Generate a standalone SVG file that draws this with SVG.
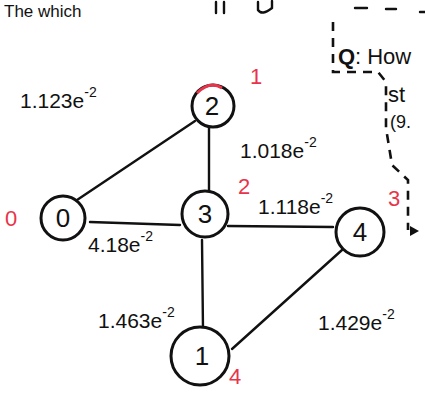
<svg xmlns="http://www.w3.org/2000/svg" width="425" height="393" viewBox="0 0 425 393">
<style>
.n{fill:#fff;stroke:#111;stroke-width:3}
.e{stroke:#111;stroke-width:2.4;fill:none;stroke-linecap:round}
.t{font-family:"Liberation Sans",Arial,sans-serif;fill:#111}
.nl{font-size:26px;text-anchor:middle}
.w{font-size:21px}
.s{font-size:14px}
.r{fill:#e8344a;font-family:"Liberation Sans",Arial,sans-serif;font-size:22px}
.d{stroke:#111;stroke-width:2.6;fill:none;stroke-dasharray:9 7}
</style>
<rect width="425" height="393" fill="#fff"/>
<g id="top-fragments">
<text class="t" x="4" y="17" font-size="17">The which</text>
<path class="e" d="M216 2 V13 M224 2 V13 M258 2 V10 Q262 16 272 8 V1"/>
<path class="e" d="M355 8 H367 M386 9 H396 M420 12 H425"/>
</g>
<g id="note">
<path class="d" d="M333 22 V72 H378 L386 82 V128 L392 165 L408 180 V230"/>
<path d="M410 226 L419 231 L410 236 Z" fill="#111"/>
<text class="t" x="338" y="64" font-size="22" font-weight="bold">Q</text>
<text class="t" x="355" y="64" font-size="22">: How</text>
<text class="t" x="388" y="102" font-size="22">st</text>
<text class="t" x="390" y="128" font-size="18">(9.</text>
<text class="r" x="388" y="206">3</text>
</g>
<g id="connectors">
<line class="e" x1="74" y1="202" x2="195" y2="121"/>
<line class="e" x1="90" y1="222" x2="180" y2="225"/>
<line class="e" x1="209" y1="128" x2="209" y2="192"/>
<line class="e" x1="228" y1="226" x2="333" y2="227"/>
<line class="e" x1="202" y1="240" x2="203" y2="330"/>
<line class="e" x1="342" y1="250" x2="232" y2="349"/>
</g>
<g id="node-2">
<circle class="n" cx="213" cy="106" r="21"/>
<path d="M197 93 Q210 80 222 88" stroke="#e8344a" stroke-width="3" fill="none"/>
<text class="t nl" x="212" y="115">2</text>
<text class="r" x="250" y="84">1</text>
</g>
<g id="node-0">
<circle class="n" cx="63" cy="218" r="22"/>
<text class="t nl" x="63" y="227">0</text>
<text class="r" x="5" y="226" font-size="24">0</text>
</g>
<g id="node-3">
<circle class="n" cx="205" cy="214" r="23"/>
<text class="t nl" x="205" y="223">3</text>
<text class="r" x="238" y="194">2</text>
</g>
<g id="node-4">
<circle class="n" cx="360" cy="232" r="24"/>
<text class="t nl" x="360" y="241">4</text>
</g>
<g id="node-1">
<circle class="n" cx="200" cy="356" r="29"/>
<text class="t nl" x="202" y="365">1</text>
<text class="r" x="229" y="384" font-size="27">4</text>
</g>
<g id="labels">
<text class="t w" x="20" y="108">1.123e<tspan class="s" dy="-11">-2</tspan></text>
<text class="t w" x="240" y="158">1.018e<tspan class="s" dy="-11">-2</tspan></text>
<text class="t w" x="258" y="214">1.118e<tspan class="s" dy="-11">-2</tspan></text>
<text class="t w" x="88" y="252">4.18e<tspan class="s" dy="-11">-2</tspan></text>
<text class="t w" x="98" y="328">1.463e<tspan class="s" dy="-11">-2</tspan></text>
<text class="t w" x="318" y="330">1.429e<tspan class="s" dy="-11">-2</tspan></text>
</g>
</svg>
